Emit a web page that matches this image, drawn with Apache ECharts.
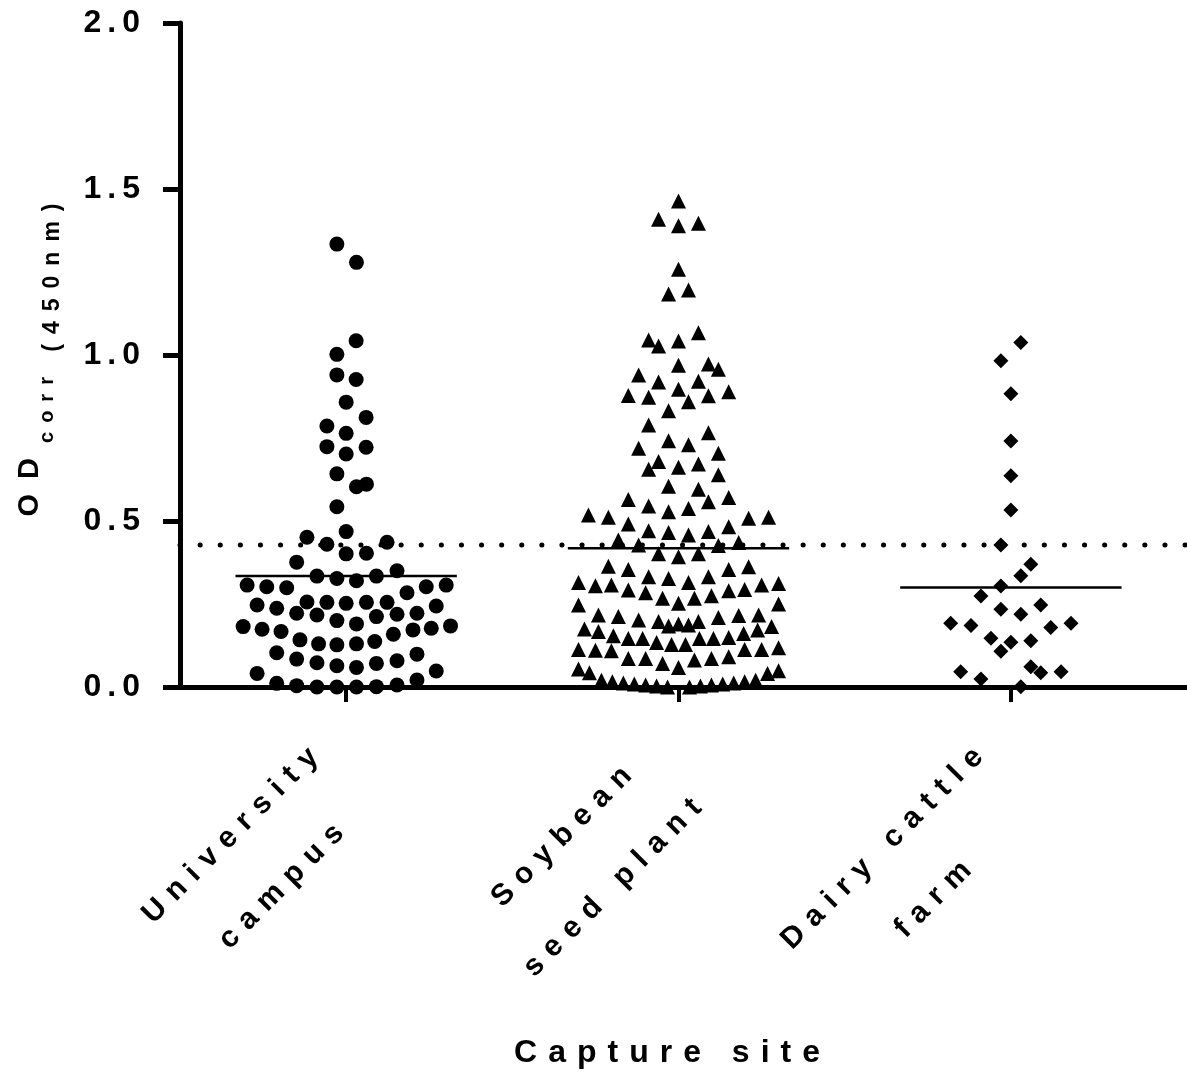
<!DOCTYPE html>
<html>
<head>
<meta charset="utf-8">
<script src="https://cdn.jsdelivr.net/npm/echarts@6/dist/echarts.min.js"></script>
<style>
  html, body { margin: 0; padding: 0; background: #fff; }
  #main { width: 1187px; height: 1082px; }
</style>
</head>
<body>
<div id="main"></div>
<script>
// categories sit at x = 0.5, 1.5, 2.5 on a value axis
var categories = ['University\ncampus', 'Soybean\nseed plant', 'Dairy cattle\nfarm'];
var centers = [0.5, 1.5, 2.5];
var yTicks = [0, 0.5, 1.0, 1.5, 2.0];

// [horizontal offset from the category centre, OD value]
var campus = [
  [-0.028, 1.334], [0.031, 1.279], [0.030, 1.043], [-0.028, 1.002], [-0.028, 0.940],
  [0.030, 0.926], [0, 0.858], [0.060, 0.812], [-0.058, 0.786], [0, 0.764],
  [-0.058, 0.724], [0.060, 0.722], [0, 0.702], [-0.028, 0.642], [0.061, 0.611],
  [0.031, 0.603], [-0.028, 0.543], [0, 0.468], [-0.118, 0.451], [-0.058, 0.430],
  [0.123, 0.436], [0, 0.401], [0.061, 0.403], [-0.149, 0.376], [0.153, 0.350],
  [-0.088, 0.334], [-0.028, 0.327], [0.031, 0.320], [0.091, 0.334], [-0.298, 0.307],
  [-0.239, 0.302], [-0.179, 0.299], [0.183, 0.284], [0.241, 0.302], [0.301, 0.307],
  [-0.268, 0.247], [-0.209, 0.237], [-0.118, 0.256], [-0.149, 0.222], [-0.058, 0.255],
  [-0.088, 0.217], [0, 0.252], [-0.028, 0.200], [0.061, 0.255], [0.031, 0.190],
  [0.123, 0.255], [0.091, 0.212], [0.153, 0.219], [0.213, 0.222], [0.271, 0.244],
  [-0.310, 0.182], [-0.253, 0.174], [-0.196, 0.167], [-0.139, 0.142], [-0.083, 0.130],
  [-0.028, 0.127], [0.031, 0.130], [0.086, 0.137], [0.142, 0.159], [0.201, 0.172],
  [0.256, 0.177], [0.314, 0.184], [-0.209, 0.103], [-0.149, 0.084], [-0.088, 0.073],
  [-0.028, 0.064], [0.031, 0.059], [0.091, 0.071], [0.153, 0.079], [0.213, 0.099],
  [-0.268, 0.041], [0.271, 0.048], [-0.209, 0.011], [-0.149, 0.004], [-0.088, 0.0],
  [-0.028, 0.0], [0.031, 0.0], [0.091, 0.001], [0.153, 0.006], [0.213, 0.021]
];

var soybean = [
  [0, 1.464], [-0.060, 1.409], [0, 1.389], [0.060, 1.397], [0, 1.258],
  [-0.030, 1.184], [0.030, 1.196], [0.060, 1.067], [-0.090, 1.045], [-0.060, 1.027],
  [0, 1.042], [0, 0.969], [0.090, 0.973], [0.120, 0.957], [-0.120, 0.940],
  [-0.060, 0.919], [0.060, 0.921], [0, 0.897], [0.151, 0.889], [-0.151, 0.878],
  [-0.090, 0.873], [0.090, 0.877], [0.030, 0.859], [-0.030, 0.832],
  [-0.090, 0.789], [0.090, 0.766], [-0.030, 0.742], [0.030, 0.730], [-0.120, 0.719],
  [0.120, 0.704], [-0.060, 0.679], [-0.090, 0.656], [0, 0.662], [0.060, 0.672],
  [0.120, 0.639], [-0.030, 0.605], [0.060, 0.596], [-0.151, 0.565], [0.151, 0.571],
  [0.090, 0.558], [-0.090, 0.545], [0.030, 0.538], [-0.030, 0.528], [-0.271, 0.518],
  [-0.211, 0.511], [0.211, 0.508], [0.271, 0.511], [-0.151, 0.491], [0.151, 0.483],
  [-0.090, 0.471], [-0.030, 0.465], [0.090, 0.468], [0.030, 0.458], [-0.181, 0.443],
  [-0.120, 0.428], [0.181, 0.435], [0.120, 0.426], [-0.060, 0.401], [0, 0.392],
  [0.060, 0.401],
  [-0.211, 0.364], [-0.151, 0.354], [0.151, 0.354], [0.211, 0.362],
  [-0.090, 0.332], [-0.030, 0.327], [0.090, 0.332], [0.030, 0.315],
  [-0.301, 0.315], [-0.250, 0.305], [-0.202, 0.307], [-0.151, 0.292], [-0.099, 0.284],
  [-0.048, 0.267], [0, 0.252], [0.048, 0.267], [0.099, 0.275], [0.151, 0.290],
  [0.199, 0.294], [0.250, 0.307], [0.301, 0.312],
  [-0.301, 0.247], [0.301, 0.250],
  [-0.241, 0.217], [-0.181, 0.212], [-0.120, 0.202], [-0.060, 0.197], [-0.030, 0.184],
  [0, 0.190], [0.030, 0.187], [0.060, 0.197], [0.120, 0.209], [0.181, 0.215],
  [0.241, 0.217],
  [-0.283, 0.175], [0.280, 0.182],
  [-0.241, 0.167], [-0.196, 0.154], [-0.151, 0.146], [-0.108, 0.146], [-0.066, 0.134],
  [-0.021, 0.128], [0.021, 0.128], [0.063, 0.146], [0.105, 0.146], [0.151, 0.149],
  [0.196, 0.161], [0.238, 0.172],
  [-0.301, 0.113], [-0.250, 0.111], [-0.202, 0.109], [-0.151, 0.086], [-0.099, 0.086],
  [-0.048, 0.071], [0, 0.059], [0.048, 0.081], [0.099, 0.086], [0.151, 0.091],
  [0.199, 0.113], [0.250, 0.113], [0.301, 0.118],
  [-0.301, 0.054], [-0.268, 0.043], [0.268, 0.041], [0.301, 0.049],
  [-0.232, 0.020], [-0.199, 0.016], [-0.166, 0.012], [-0.133, 0.009], [-0.099, 0.006],
  [-0.066, 0.003], [-0.033, 0.0], [0, -0.002], [0.033, 0.0], [0.066, 0.003],
  [0.099, 0.006], [0.133, 0.009], [0.166, 0.012], [0.199, 0.016], [0.232, 0.020],
  [-0.066, -0.012], [-0.033, -0.014], [0, -0.015], [0.033, -0.014], [0.066, -0.012]
];

var dairy = [
  [0.030, 1.038], [-0.030, 0.983], [0, 0.883], [0, 0.741], [0, 0.636],
  [0, 0.533], [-0.030, 0.428], [0.060, 0.370], [0.030, 0.335], [-0.030, 0.304],
  [-0.090, 0.274], [-0.030, 0.234], [0.090, 0.247], [0.030, 0.219], [-0.181, 0.192],
  [-0.120, 0.185], [0.120, 0.179], [0.181, 0.192], [-0.060, 0.147], [0, 0.135],
  [0.060, 0.139], [-0.030, 0.108], [-0.151, 0.046], [-0.090, 0.024], [0.060, 0.061],
  [0.090, 0.043], [0.151, 0.046], [-0.030, -0.004], [0.030, 0.001]
];

var groupMeans = [0.334, 0.418, 0.300];
var cutoff = 0.428;
var meanHalfWidth = 0.333;
var xMax = 3.03;

var font = 'Liberation Sans';

// the original text is set with wide letter spacing: one rich token per character
function spaced(text, style) {
  return text.split('').map(function (ch) { return '{' + style + '|' + ch + '}'; }).join('');
}

function placed(points, centre) {
  return points.map(function (p) { return [centre + p[0], p[1]]; });
}

var series = [
  {
    type: 'line',
    data: [[0, cutoff], [xMax, cutoff]],
    symbol: 'none',
    silent: true,
    lineStyle: { color: '#000', width: 5, type: [0.1, 20], cap: 'round' },
    z: 1
  }
];

groupMeans.forEach(function (m, i) {
  series.push({
    type: 'line',
    data: [[centers[i] - meanHalfWidth, m], [centers[i] + meanHalfWidth, m]],
    symbol: 'none',
    silent: true,
    lineStyle: { color: '#000', width: 2.5 },
    z: 3
  });
});

series.push(
  { type: 'scatter', data: placed(campus, centers[0]), symbol: 'circle', symbolSize: 15,
    itemStyle: { color: '#000', opacity: 1 }, z: 2 },
  { type: 'scatter', data: placed(soybean, centers[1]), symbol: 'triangle', symbolSize: 15,
    itemStyle: { color: '#000', opacity: 1 }, z: 2 },
  { type: 'scatter', data: placed(dairy, centers[2]), symbol: 'diamond', symbolSize: 15,
    itemStyle: { color: '#000', opacity: 1 }, z: 2 }
);

var chart = echarts.init(document.getElementById('main'));
chart.setOption({
  backgroundColor: '#fff',
  animation: false,
  grid: { left: 180, right: 0, top: 23, bottom: 395, containLabel: false },
  xAxis: {
    type: 'value',
    min: 0,
    max: xMax,
    splitLine: { show: false },
    axisLine: { show: true, lineStyle: { color: '#000', width: 5 } },
    axisTick: { show: true, customValues: centers, length: 15, lineStyle: { color: '#000', width: 4 } },
    axisLabel: {
      customValues: centers,
      rotate: 45,
      margin: 84,
      formatter: function (v) {
        var i = centers.indexOf(v);
        if (i < 0) return '';
        return categories[i].split('\n').map(function (s) { return spaced(s, 'c'); }).join('\n');
      },
      rich: {
        c: { align: 'center', fontFamily: font, fontWeight: 'bold', fontSize: 30, color: '#000',
             lineHeight: 72, padding: [0, 10, 0, 0] }
      }
    },
    name: spaced('Capture site', 'n'),
    nameLocation: 'middle',
    nameGap: 350,
    nameTextStyle: {
      padding: [0, 22, 0, 0],
      rich: {
        n: { fontFamily: font, fontWeight: 'bold', fontSize: 32, color: '#000', padding: [0, 11, 0, 0] }
      }
    }
  },
  yAxis: {
    type: 'value',
    min: yTicks[0],
    max: yTicks[yTicks.length - 1],
    interval: 0.5,
    splitLine: { show: false },
    axisLine: { show: true, lineStyle: { color: '#000', width: 5 } },
    axisTick: { show: true, length: 17, lineStyle: { color: '#000', width: 5 } },
    axisLabel: {
      margin: 34,
      formatter: function (v) { return spaced(v.toFixed(1), 't'); },
      rich: {
        t: { fontFamily: font, fontWeight: 'bold', fontSize: 32, color: '#000', padding: [0, 6, 0, 0] }
      }
    },
    name: spaced('OD', 'a') + spaced('corr', 'b') + spaced(' (450nm)', 'c'),
    nameLocation: 'middle',
    nameGap: 136,
    nameTextStyle: {
      rich: {
        a: { fontFamily: font, fontWeight: 'bold', fontSize: 29, color: '#000', lineHeight: 29,
             verticalAlign: 'top', padding: [0, 15, 0, 0] },
        b: { fontFamily: font, fontWeight: 'bold', fontSize: 20, color: '#000', lineHeight: 20,
             verticalAlign: 'top', padding: [22, 9, 0, 0] },
        c: { fontFamily: font, fontWeight: 'bold', fontSize: 23, color: '#000', lineHeight: 23,
             verticalAlign: 'top', padding: [26, 10, 0, 0] }
      }
    }
  },
  series: series
});
</script>
</body>
</html>
